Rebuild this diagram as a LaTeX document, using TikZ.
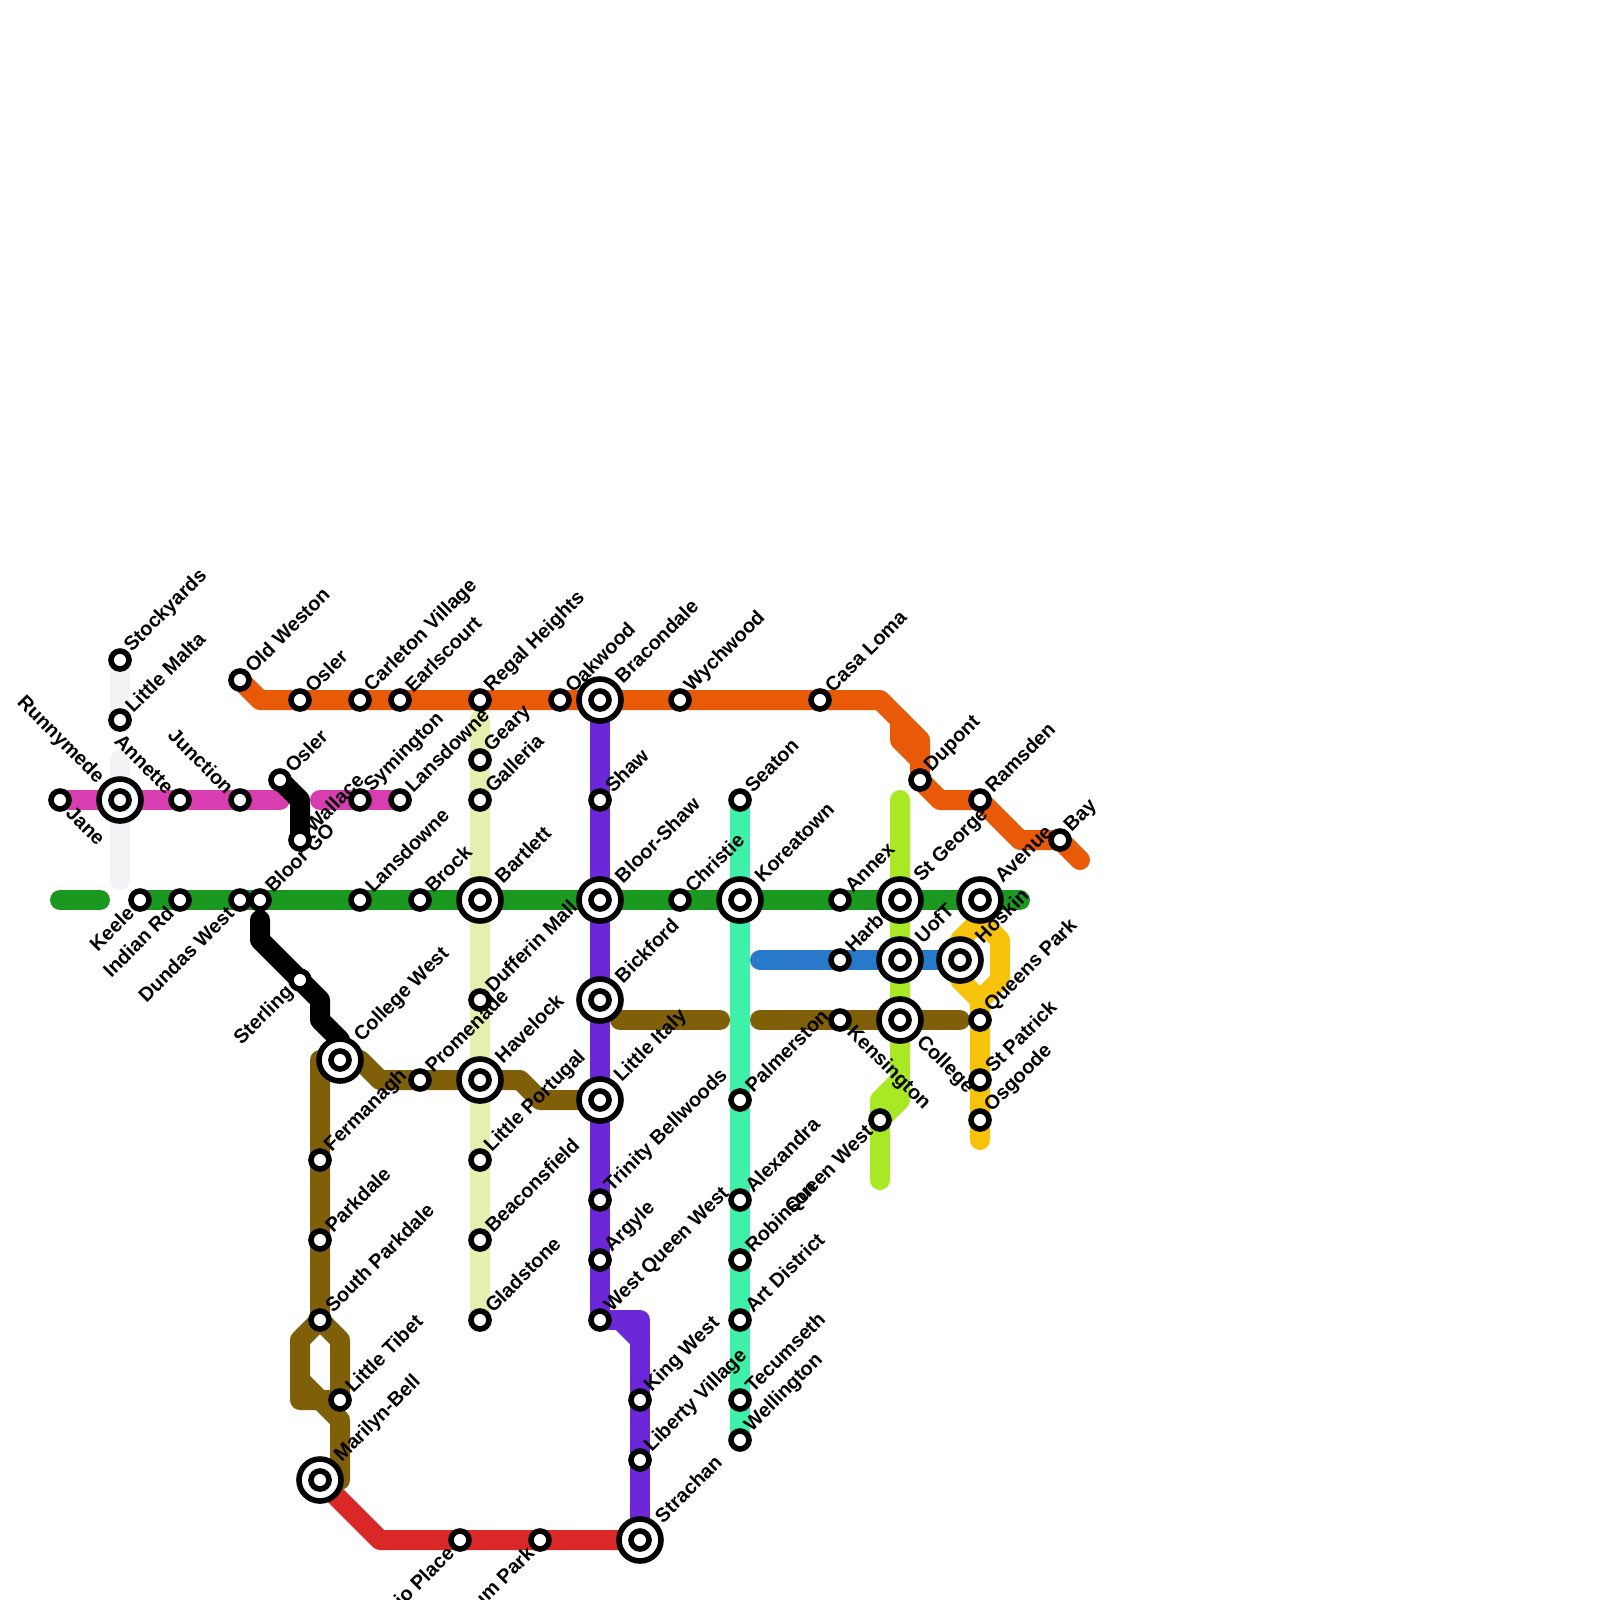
\documentclass[tikz,border=0pt]{standalone}
\usepackage{fontspec}
\setmainfont{Liberation Sans}

\definecolor{lineorange}{HTML}{E95A08}
\definecolor{linemagenta}{HTML}{D93EB1}
\definecolor{linegreen}{HTML}{1A9820}
\definecolor{linepurple}{HTML}{6C28D8}
\definecolor{lineteal}{HTML}{3EF0A8}
\definecolor{linelime}{HTML}{A8E824}
\definecolor{lineblue}{HTML}{2878CC}
\definecolor{lineyellow}{HTML}{F6C20A}
\definecolor{linebrown}{HTML}{7F6008}
\definecolor{linered}{HTML}{DA2828}
\definecolor{linesilver}{HTML}{F3F3F6}
\definecolor{linepale}{HTML}{E5EFAE}

\pgfdeclarelayer{lines}
\pgfsetlayers{lines,main}

\begin{document}
\begin{tikzpicture}[x=0.2cm, y=-0.2cm,
    metro/.style={line width=2mm, line join=round, line cap=round},
    stn/.style={circle, draw=black, fill=white, line width=0.56mm, inner sep=0pt, minimum size=1.8mm},
    bigstn/.style={circle, draw=black, fill=white, line width=0.56mm, inner sep=0pt, minimum size=4.2mm},
    lbl/.style={font=\bfseries\fontsize{5.65}{6.4}\selectfont, text=black, inner ysep=0pt, inner xsep=#1},
    lbl/.default=1.3mm,
    lblne/.style={lbl=#1, rotate=45, anchor=west, yshift=0.2mm},
    lblnw/.style={lbl=#1, rotate=-45, anchor=east},
    lblse/.style={lbl=#1, rotate=-45, anchor=west},
    lblsw/.style={lbl=#1, rotate=45, anchor=east}]

  \useasboundingbox (0,0) rectangle (80,80);

  % ==========================================
  % SMALL STATIONS AND THEIR NAMES
  % ==========================================
  \foreach \nam/\x/\y/\txt in {stockyards/6/33/Stockyards, littlemalta/6/36/Little Malta,
      oldweston/12/34/Old Weston, osler/15/35/Osler, carleton/18/35/Carleton Village,
      earlscourt/20/35/Earlscourt, regal/24/35/Regal Heights, oakwood/28/35/Oakwood,
      wychwood/34/35/Wychwood, casaloma/41/35/Casa Loma, oslertwo/14/39/Osler,
      symington/18/40/Symington, lansdowne/20/40/Lansdowne, geary/24/38/Geary,
      galleria/24/40/Galleria, shaw/30/40/Shaw, seaton/37/40/Seaton, dupont/46/39/Dupont,
      ramsden/49/40/Ramsden, bay/53/42/Bay, wallace/15/42/Wallace, bloorgo/13/45/Bloor GO,
      lansdownetwo/18/45/Lansdowne, brock/21/45/Brock, christie/34/45/Christie,
      annex/42/45/Annex, harbord/42/48/Harbord, dufferin/24/50/Dufferin Mall,
      queenspark/49/51/Queens Park, stpatrick/49/54/St Patrick, osgoode/49/56/Osgoode,
      promenade/21/54/Promenade, palmerston/37/55/Palmerston, fermanagh/16/58/Fermanagh,
      littleportugal/24/58/Little Portugal, parkdale/16/62/Parkdale,
      beaconsfield/24/62/Beaconsfield, southparkdale/16/66/South Parkdale,
      gladstone/24/66/Gladstone, trinity/30/60/Trinity Bellwoods, argyle/30/63/Argyle,
      westqueen/30/66/West Queen West, alexandra/37/60/Alexandra, robinson/37/63/Robinson,
      artdistrict/37/66/Art District, littletibet/17/70/Little Tibet, kingwest/32/70/King West,
      tecumseth/37/70/Tecumseth, liberty/32/73/Liberty Village, wellington/37/72/Wellington} {
    \node[stn] (\nam) at (\x,\y) {};
    \node[lblne=1.3mm] (\nam-name) at (\nam) {\txt};
  }

  \foreach \nam/\x/\y/\txt in {annette/9/40/Annette, junction/12/40/Junction} {
    \node[stn] (\nam) at (\x,\y) {};
    \node[lblnw=1.3mm] (\nam-name) at (\nam) {\txt};
  }
  \foreach \nam/\x/\y/\txt in {jane/3/40/Jane, kensington/42/51/Kensington} {
    \node[stn] (\nam) at (\x,\y) {};
    \node[lblse=1.3mm] (\nam-name) at (\nam) {\txt};
  }
  \foreach \nam/\x/\y/\txt in {keele/7/45/Keele, indianrd/9/45/Indian Rd, dundaswest/12/45/Dundas West,
      sterling/15/49/Sterling, queenwest/44/56/Queen West, ontario/23/77/Ontario Place,
      museum/27/77/Museum Park} {
    \node[stn] (\nam) at (\x,\y) {};
    \node[lblsw=1.3mm] (\nam-name) at (\nam) {\txt};
  }

  % ==========================================
  % INTERCHANGES (drawn over the names)
  % ==========================================
  \foreach \nam/\x/\y/\txt in {bracondale/30/35/Bracondale, bartlett/24/45/Bartlett, bloorshaw/30/45/Bloor-Shaw,
      koreatown/37/45/Koreatown, stgeorge/45/45/St George, avenue/49/45/Avenue, uoft/45/48/UofT,
      hoskin/48/48/Hoskin, bickford/30/50/Bickford, collegewest/17/53/College West,
      havelock/24/54/Havelock, littleitaly/30/55/Little Italy, marilyn/16/74/Marilyn-Bell,
      strachan/32/77/Strachan}
    \node[lblne=2.7mm] (\nam-name) at (\x,\y) {\txt};
  \node[lblnw=2.7mm] (runnymede-name) at (6,40) {Runnymede};
  \node[lblse=2.7mm] (college-name) at (45,51) {College};

  \foreach \nam/\x/\y in {bracondale/30/35, bartlett/24/45, bloorshaw/30/45, koreatown/37/45,
      stgeorge/45/45, avenue/49/45, uoft/45/48, hoskin/48/48, bickford/30/50, collegewest/17/53,
      havelock/24/54, littleitaly/30/55, marilyn/16/74, strachan/32/77, runnymede/6/40, college/45/51} {
    \node[bigstn] (\nam) at (\x,\y) {};
    \node[stn] (\nam-in) at (\nam) {};
  }

  % ==========================================
  % LINES
  % ==========================================
  \begin{pgfonlayer}{lines}
    % Silver
    \draw[metro, linesilver] (stockyards.center) -- (littlemalta.center);
    \draw[metro, linesilver] (6,38) -- (6,44);

    % Pale line under the orange
    \draw[metro, linepale] (regal.center) ++(0,1) -- (gladstone.center);

    % Magenta
    \draw[metro, linemagenta] (jane.center) -- (14,40);
    \draw[metro, linemagenta] (16,40) -- (lansdowne.center);

    % Green
    \draw[metro, linegreen] (3,45) -- (5,45);
    \draw[metro, linegreen] (keele.center) -- (51,45);

    % Orange
    \draw[metro, lineorange] (oldweston.center) -- (13,35) -- (44,35) -- (46,37) -- (dupont.center);
    \draw[metro, lineorange] (45,36) -- (45,37) -- (46,38);
    \draw[metro, lineorange] (dupont.center) -- (47,40) -- (ramsden.center) -- (51,42) -- (bay.center) -- (54,43);

    % Black
    \draw[metro, black] (oslertwo.center) -- (15,40) -- (wallace.center);
    \draw[metro, black] (13,46) -- (13,47) -- (16,50) -- (16,51) -- (17,52) -- (collegewest.center);

    % Purple
    \draw[metro, linepurple] (bracondale.center) -- (westqueen.center) -- (32,66) -- (strachan.center);
    \draw[metro, linepurple] (31,66) -- (32,67);

    % Teal, lime, blue
    \draw[metro, lineteal] (seaton.center) -- (wellington.center);
    \draw[metro, linelime] (45,40) -- (45,55) -- (queenwest.center);
    \draw[metro, linelime] (45,54) -- (44,55) -- (44,59);
    \draw[metro, lineblue] (38,48) -- (hoskin.center);

    % Yellow
    \draw[metro, lineyellow] (49,46) -- (48,47) -- (48,49) -- (49,50) -- (49,57);
    \draw[metro, lineyellow] (49,46) -- (50,47) -- (50,49) -- (49,50);

    % Red
    \draw[metro, linered] (marilyn.center) -- (19,77) -- (strachan.center);

    % Brown
    \draw[metro, linebrown] (31,51) -- (36,51);
    \draw[metro, linebrown] (38,51) -- (48,51);
    \draw[metro, linebrown] (collegewest.center) -- (16,53) -- (southparkdale.center) -- (15,67) -- (15,70) -- (16,70) -- (17,71) -- (17,74) -- (marilyn.center);
    \draw[metro, linebrown] (southparkdale.center) -- (17,67) -- (littletibet.center) -- (16,70) -- (15,69);
    \draw[metro, linebrown] (collegewest.center) -- (18,53) -- (19,54) -- (26,54) -- (27,55) -- (littleitaly.center);
  \end{pgfonlayer}

\end{tikzpicture}
\end{document}
